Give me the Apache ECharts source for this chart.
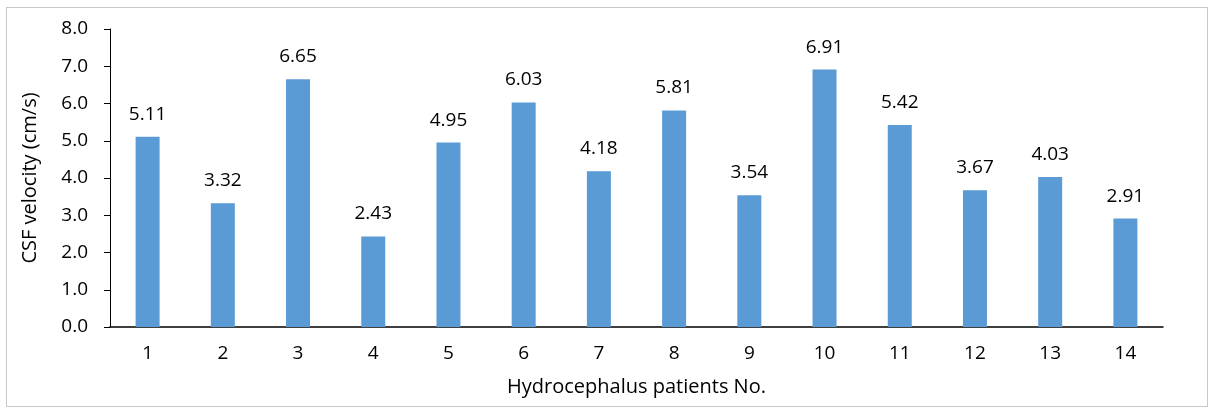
<!DOCTYPE html>
<html><head><meta charset="utf-8">
<script src="https://cdn.jsdelivr.net/npm/echarts@6/dist/echarts.min.js"></script>
<style>html,body{margin:0;padding:0;background:#fff}#c{width:1209px;height:408px}
#frame{position:absolute;left:6px;top:7px;width:1202px;height:400px;border:1px solid #c8c8c8;box-sizing:border-box;pointer-events:none}</style>
</head><body><div id="c"></div><div id="frame"></div>
<script>
const categories = ['1','2','3','4','5','6','7','8','9','10','11','12','13','14'];
const velocity = [5.11,3.32,6.65,2.43,4.95,6.03,4.18,5.81,3.54,6.91,5.42,3.67,4.03,2.91];
const yTicks = {min:0,max:8,interval:1};
const FONT = '"Open Sans", "Liberation Sans", sans-serif';
const chart = echarts.init(document.getElementById('c'));
chart.setOption({
  animation:false,
  grid:{left:110,right:46,top:29,bottom:81,containLabel:false},
  xAxis:{type:'category',data:categories,
    name:'Hydrocephalus patients No.',nameLocation:'middle',nameGap:50,
    nameTextStyle:{fontFamily:FONT,fontSize:20,color:'#000'},
    axisLine:{lineStyle:{color:'#000',width:1.5}},axisTick:{show:false},
    axisLabel:{fontFamily:FONT,fontSize:19,color:'#000',margin:17}},
  yAxis:{type:'value',min:yTicks.min,max:yTicks.max,interval:yTicks.interval,
    name:'CSF velocity (cm/s)',nameLocation:'middle',nameGap:70,
    nameTextStyle:{fontFamily:FONT,fontSize:20,color:'#000'},
    axisLine:{show:true,lineStyle:{color:'#000',width:1}},
    axisTick:{show:true,length:6,lineStyle:{color:'#000'}},
    splitLine:{show:false},
    axisLabel:{fontFamily:FONT,fontSize:19,color:'#000',margin:22,formatter:v=>v.toFixed(1)}},
  series:[{type:'bar',data:velocity,barWidth:24,
    itemStyle:{color:'#5B9BD5'},
    label:{show:true,position:'top',distance:13,fontFamily:FONT,fontSize:19,color:'#000',formatter:p=>p.value.toFixed(2)}}]
});
</script></body></html>
